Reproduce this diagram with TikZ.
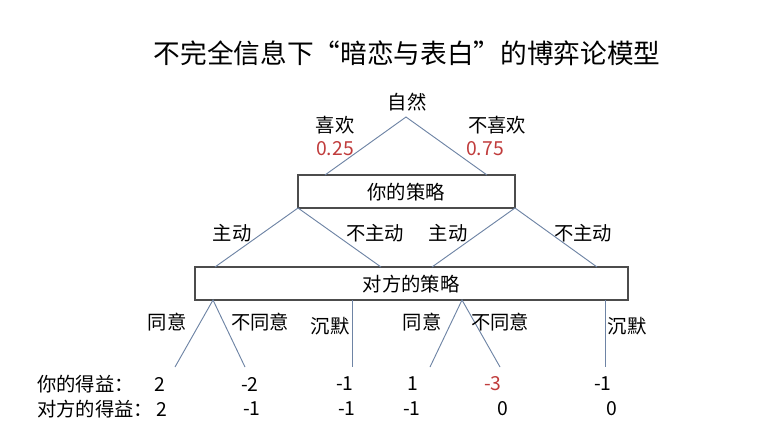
\documentclass[tikz,border=0pt]{standalone}
\usepackage{fontspec}
\setmainfont{Noto Sans CJK SC}
\definecolor{lnc}{RGB}{110,132,165}
\definecolor{rc}{RGB}{192,60,60}
\begin{document}
\begin{tikzpicture}[x=0.75pt,y=-0.75pt,
  ln/.style={draw=lnc,line width=0.7pt},
  box/.style={draw=black!70,line width=0.8pt},
  t/.style={font=\fontsize{14.5}{15}\selectfont,inner sep=0pt},
  red/.style={t,text=rc}]
\useasboundingbox (0,0) rectangle (761,444);
\node[inner sep=0pt,font=\fontsize{20}{22}\selectfont] (title) at (407,53) {不完全信息下“暗恋与表白”的博弈论模型};
\node[t] (nat) at (407,102) {自然};
\coordinate (apex) at (406,117);
\draw[box] (298,175) rectangle (515,208);
\node[t] (b1) at (406,192) {你的策略};
\coordinate (b1a) at (325,175); \coordinate (b1b) at (487,175);
\draw[ln] (b1a) -- (apex) -- (b1b);
\node[t] (l1) at (335,125) {喜欢};
\node[red] (p1) at (335,149) {0.25};
\node[t] (l2) at (497,125) {不喜欢};
\node[red] (p2) at (485,149) {0.75};
\draw[box] (195,267) rectangle (628,300);
\node[t] (b2) at (411,284) {对方的策略};
\coordinate (c1) at (298,208); \coordinate (c2) at (515,208);
\coordinate (d1) at (215,267); \coordinate (d2) at (381,267);
\coordinate (d3) at (432,267); \coordinate (d4) at (597,267);
\draw[ln] (d1) -- (c1) -- (d2);
\draw[ln] (d3) -- (c2) -- (d4);
\node[t] (m1) at (232,233) {主动};
\node[t] (m2) at (375,233) {不主动};
\node[t] (m3) at (448,233) {主动};
\node[t] (m4) at (583,233) {不主动};
\coordinate (e1) at (213,300); \coordinate (e2) at (462,300);
\coordinate (f1) at (175,367); \coordinate (f2) at (245,367);
\coordinate (f3) at (430,367); \coordinate (f4) at (500,367);
\coordinate (g1) at (352,300); \coordinate (h1) at (352,367);
\coordinate (g2) at (605,300); \coordinate (h2) at (605,367);
\draw[ln] (f1) -- (e1) -- (f2);
\draw[ln] (f3) -- (e2) -- (f4);
\draw[ln] (g1) -- (h1);
\draw[ln] (g2) -- (h2);
\node[t] (n1) at (167,322) {同意};
\node[t] (n2) at (260,322) {不同意};
\node[t] (n3) at (330,326) {沉默};
\node[t] (n4) at (422,322) {同意};
\node[t] (n5) at (500,322) {不同意};
\node[t] (n6) at (627,326) {沉默};
\node[t,anchor=west] (r1) at (37,384) {你的得益：};
\node[t,anchor=west] (r2) at (37,409) {对方的得益：};
\node[t] (v1) at (160,384) {2};
\node[t] (v2) at (250,384) {-2};
\node[t] (v3) at (345,384) {-1};
\node[t] (v4) at (413,384) {1};
\node[red] (v5) at (493,384) {-3};
\node[t] (v6) at (603,384) {-1};
\node[t] (w1) at (162,409) {2};
\node[t] (w2) at (252,409) {-1};
\node[t] (w3) at (347,409) {-1};
\node[t] (w4) at (412,409) {-1};
\node[t] (w5) at (503,409) {0};
\node[t] (w6) at (612,409) {0};
\end{tikzpicture}
\end{document}
